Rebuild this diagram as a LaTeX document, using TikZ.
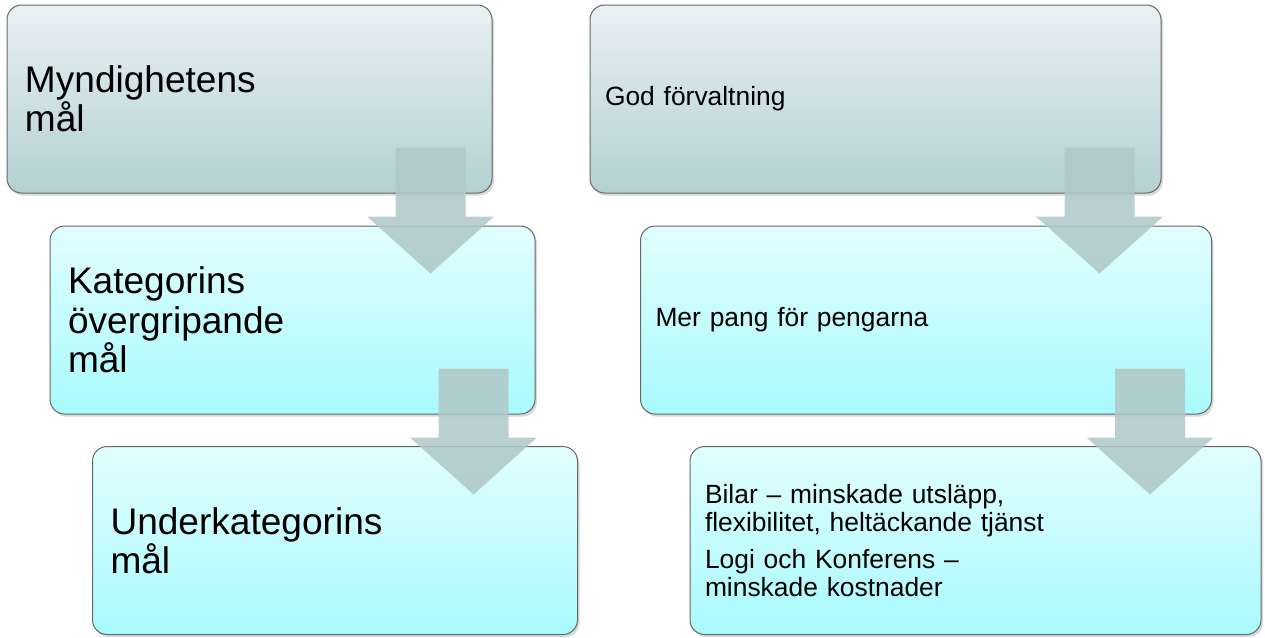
\documentclass[tikz,border=0pt]{standalone}
\usepackage{fontspec}
\setmainfont{Liberation Sans}
\usetikzlibrary{positioning,calc,shadows}
\definecolor{gratopp}{RGB}{234,241,243}
\definecolor{grabotten}{RGB}{178,208,210}
\definecolor{turkostopp}{RGB}{226,254,255}
\definecolor{turkosbotten}{RGB}{168,250,252}
\definecolor{kantfarg}{RGB}{100,106,106}
\definecolor{pilfarg}{RGB}{176,200,200}
% blockpil nedat, #1 = mitten av skaftets overkant
\newcommand{\pil}[1]{\fill[pilfarg, fill opacity=0.88] #1 -- ++(-35,0) -- ++(0,-69) -- ++(-28.5,0) -- ++(63.5,-57) -- ++(63.5,57) -- ++(-28.5,0) -- ++(0,69) -- cycle;}

\begin{document}
\begin{tikzpicture}[x=0.75pt,y=0.75pt,on grid,
    box/.style={rectangle, rounded corners=11pt, draw=kantfarg, line width=0.75pt,
      minimum height=141pt, inner ysep=0pt, align=left,
      drop shadow={shadow xshift=1.5pt, shadow yshift=-2pt, opacity=0.3}},
    vanster/.style={box, text width=336.75pt, inner xsep=13.5pt, font=\fontsize{27.8}{29.5}\selectfont},
    hoger/.style={box, text width=405.75pt, inner xsep=11.25pt, font=\fontsize{19.8}{21}\selectfont},
    overst/.style={top color=gratopp, bottom color=grabotten},
    under/.style={top color=turkostopp, bottom color=turkosbotten}]
  \useasboundingbox (0,0) rectangle (1265,-637);

  % vanster kolumn
  \node[vanster, overst] (m1) at (249.5,-99) {Myndighetens\\mål};
  \node[vanster, under]  (k2) [below right=165.75pt and 32.25pt of m1] {Kategorins\\övergripande\\mål};
  \node[vanster, under]  (u3) [below right=165.375pt and 31.875pt of k2] {Underkategorins\\mål};

  % hoger kolumn
  \node[hoger, overst] (g1) [right=469.5pt of m1] {God förvaltning};
  \node[hoger, under]  (p2) [below right=165.75pt and 37.875pt of g1] {Mer pang för pengarna};
  \node[hoger, under]  (b3) [below right=165.375pt and 37.125pt of p2]
    {Bilar – minskade utsläpp,\\flexibilitet, heltäckande tjänst\\[6.75pt]Logi och Konferens –\\minskade kostnader};

  \pil{($(m1.south east)+(-62,46)$)}
  \pil{($(k2.south east)+(-62,46)$)}
  \pil{($(g1.south east)+(-62,46)$)}
  \pil{($(p2.south east)+(-62,46)$)}
\end{tikzpicture}
\end{document}
